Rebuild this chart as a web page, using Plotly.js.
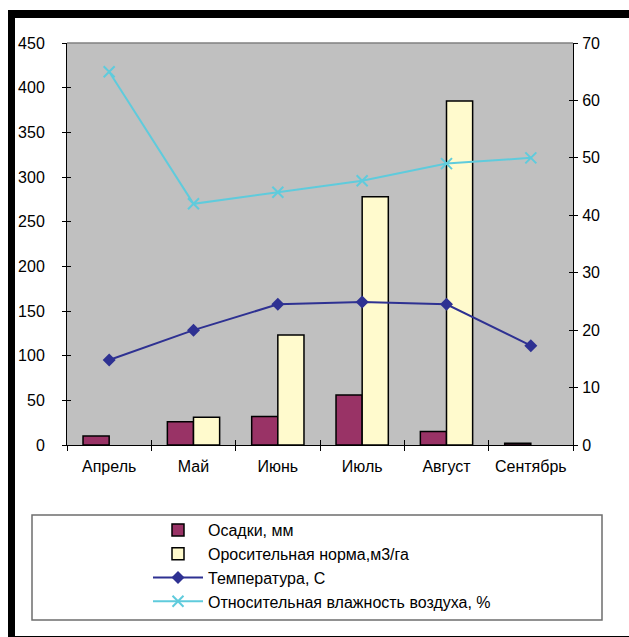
<!DOCTYPE html>
<html>
<head>
<meta charset="utf-8">
<script src="https://cdn.plot.ly/plotly-3.0.1.min.js"></script>
<style>
html,body{margin:0;padding:0;background:#fff;}
#wrap{position:relative;width:629px;height:637px;overflow:hidden;}
#chart{position:absolute;left:0;top:0;width:629px;height:637px;}
#frame{position:absolute;left:8px;top:10px;width:621px;height:627px;box-sizing:border-box;
  border-top:8px solid #000;border-left:7px solid #000;border-bottom:1px solid #000;pointer-events:none;}
</style>
</head>
<body>
<div id="wrap"><div id="chart"></div><div id="frame"></div></div>
<script>
// ---- data ----
const months = ["Апрель", "Май", "Июнь", "Июль", "Август", "Сентябрь"];
const precipitation = [10, 26, 32, 56, 15, 2];          // Осадки, мм
const irrigation = [null, 31, 123, 278, 385, null];      // Оросительная норма, м3/га
const temperature = [14.8, 20.0, 24.5, 24.9, 24.5, 17.3]; // Температура, С
const humidity = [65, 42, 44, 46, 49, 50];               // Относительная влажность воздуха, %
const leftTicks = [0, 50, 100, 150, 200, 250, 300, 350, 400, 450];
const rightTicks = [0, 10, 20, 30, 40, 50, 60, 70];

const FONT = "Liberation Sans, Arial, sans-serif";
const FS = 16;
const L = 67, R = 56, T = 43, B = 192, W = 629, H = 637;
const pw = W - L - R, ph = H - T - B;
const px = x => (x - L) / pw;
const py = y => (H - B - y) / ph;

const traces = [
  {type: "bar", name: "Осадки, мм", x: months, y: precipitation, xaxis: "x", yaxis: "y",
   marker: {color: "#993366", line: {color: "#000", width: 1.5}}, legendgroup: "a"},
  {type: "bar", name: "Оросительная норма,м3/га", x: months, y: irrigation, xaxis: "x", yaxis: "y",
   marker: {color: "#FFFACD", line: {color: "#000", width: 1.5}}, legendgroup: "b"},
  {type: "scatter", mode: "lines+markers", name: "Температура, С", x: months, y: temperature,
   xaxis: "x", yaxis: "y2", line: {color: "#2E3192", width: 2},
   marker: {symbol: "diamond", size: 10, color: "#2E3192"}, legendgroup: "c"},
  {type: "scatter", mode: "lines+markers", name: "Относительная влажность воздуха, %", x: months, y: humidity,
   xaxis: "x", yaxis: "y2", line: {color: "#5FCBDC", width: 2},
   marker: {symbol: "x-thin", size: 11, color: "#5FCBDC", line: {color: "#5FCBDC", width: 2}}, legendgroup: "d"},
  {type: "scatter", mode: "markers", x: months, y: humidity, xaxis: "x2", yaxis: "y2",
   marker: {opacity: 0}, showlegend: false, hoverinfo: "skip"},
  {type: "scatter", mode: "markers", x: months, y: precipitation, xaxis: "x", yaxis: "y3",
   marker: {opacity: 0}, showlegend: false, hoverinfo: "skip"},
  {type: "scatter", mode: "markers", x: months, y: humidity, xaxis: "x", yaxis: "y4",
   marker: {opacity: 0}, showlegend: false, hoverinfo: "skip"}
];

const layout = {
  width: W, height: H,
  margin: {l: L, r: R, t: T, b: B, pad: 0},
  paper_bgcolor: "#fff", plot_bgcolor: "#C0C0C0",
  font: {family: FONT, size: FS, color: "#000"},
  barmode: "group", bargap: 0.38, bargroupgap: 0,
  showlegend: true,
  xaxis: {type: "category", categoryarray: months, range: [-0.5, 5.5], tickson: "boundaries",
    ticks: "outside", ticklen: 5, tickwidth: 1, tickcolor: "#000", showline: true, linecolor: "#000",
    linewidth: 1, showgrid: false, zeroline: false, tickfont: {size: FS, family: FONT}, ticklabelstandoff: 7},
  xaxis2: {type: "category", categoryarray: months, range: [-0.5, 5.5], overlaying: "x", matches: "x",
    anchor: "y", tickson: "boundaries", ticks: "inside", ticklen: 5, tickcolor: "#000",
    showticklabels: false, showline: false, showgrid: false, zeroline: false},
  yaxis: {range: [0, 450], tickvals: leftTicks, ticks: "outside", ticklen: 4, tickcolor: "#000",
    showline: true, linecolor: "#000", linewidth: 1, showgrid: false, zeroline: false,
    tickfont: {size: FS, family: FONT}, ticklabelstandoff: 14},
  yaxis3: {range: [0, 450], tickvals: leftTicks, overlaying: "y", anchor: "x", ticks: "inside", ticklen: 4,
    tickcolor: "#000", showticklabels: false, showline: false, showgrid: false, zeroline: false},
  yaxis2: {range: [0, 70], tickvals: rightTicks, overlaying: "y", side: "right", anchor: "x",
    ticks: "outside", ticklen: 4, tickcolor: "#000", showline: true, linecolor: "#000", linewidth: 1,
    showgrid: false, zeroline: false, tickfont: {size: FS, family: FONT}, ticklabelstandoff: 1},
  yaxis4: {range: [0, 70], tickvals: rightTicks, overlaying: "y", side: "right", anchor: "x",
    ticks: "inside", ticklen: 4, tickcolor: "#000", showticklabels: false, showline: false,
    showgrid: false, zeroline: false},
  legend: {x: px(148), y: py(513), xanchor: "left", yanchor: "top", bgcolor: "rgba(0,0,0,0)",
    borderwidth: 0, font: {size: FS, family: FONT, color: "#000"}, tracegroupgap: 4, itemwidth: 50,
    traceorder: "normal"},
  shapes: [
    {type: "line", xref: "paper", yref: "paper", x0: 0, x1: 1, y0: 1, y1: 1,
     line: {color: "#808080", width: 1.5}},
    {type: "rect", xref: "paper", yref: "paper", x0: px(32), x1: px(602), y0: py(515), y1: py(620),
     line: {color: "#6e6e6e", width: 1.5}, fillcolor: "rgba(0,0,0,0)"}
  ]
};

Plotly.newPlot("chart", traces, layout, {staticPlot: true, displayModeBar: false});
</script>
</body>
</html>
